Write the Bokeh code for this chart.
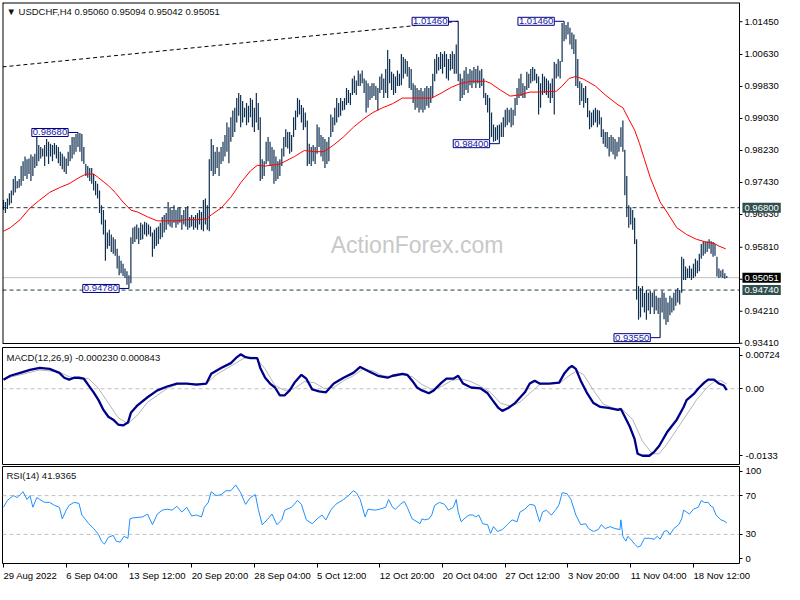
from bokeh.plotting import figure
from bokeh.models import Range1d, LinearAxis, FixedTicker, Span, Label
from bokeh.layouts import column
from bokeh.core.properties import value
from bokeh.embed import file_html
from bokeh.resources import INLINE

# ---------------- price bars (H4, one per bar index) ----------------
highs = [
    0.9699, 0.9694, 0.9703, 0.9716, 0.9723, 0.9752, 0.9759, 0.9747, 0.9752, 0.9784,
    0.9796, 0.9808, 0.9801, 0.9803, 0.9813, 0.9808, 0.9815, 0.9857, 0.9837, 0.9832,
    0.9828, 0.9837, 0.9852, 0.9845, 0.9840, 0.9837, 0.9842, 0.9837, 0.9832, 0.9820,
    0.9815, 0.9808, 0.9803, 0.9820, 0.9837, 0.9857, 0.9857, 0.9864, 0.9868, 0.9867,
    0.9864, 0.9832, 0.9789, 0.9784, 0.9779, 0.9779, 0.9764, 0.9747, 0.9740, 0.9723,
    0.9686, 0.9674, 0.9650, 0.9618, 0.9625, 0.9613, 0.9606, 0.9601, 0.9577, 0.9560,
    0.9547, 0.9540, 0.9528, 0.9521, 0.9511, 0.9606, 0.9630, 0.9633, 0.9638, 0.9630,
    0.9642, 0.9638, 0.9645, 0.9642, 0.9638, 0.9633, 0.9618, 0.9625, 0.9630, 0.9633,
    0.9642, 0.9657, 0.9662, 0.9667, 0.9694, 0.9681, 0.9674, 0.9686, 0.9674, 0.9679,
    0.9681, 0.9662, 0.9674, 0.9679, 0.9684, 0.9657, 0.9662, 0.9657, 0.9662, 0.9667,
    0.9674, 0.9669, 0.9699, 0.9703, 0.9686, 0.9801, 0.9852, 0.9837, 0.9820, 0.9832,
    0.9820, 0.9832, 0.9845, 0.9862, 0.9893, 0.9881, 0.9906, 0.9923, 0.9930, 0.9954,
    0.9967, 0.9962, 0.9947, 0.9930, 0.9942, 0.9935, 0.9954, 0.9950, 0.9930, 0.9967,
    0.9942, 0.9906, 0.9801, 0.9796, 0.9845, 0.9857, 0.9845, 0.9832, 0.9825, 0.9808,
    0.9796, 0.9801, 0.9828, 0.9857, 0.9876, 0.9869, 0.9869, 0.9862, 0.9906, 0.9923,
    0.9954, 0.9950, 0.9937, 0.9930, 0.9918, 0.9898, 0.9840, 0.9832, 0.9837, 0.9832,
    0.9888, 0.9881, 0.9862, 0.9857, 0.9852, 0.9845, 0.9857, 0.9913, 0.9906, 0.9930,
    0.9954, 0.9942, 0.9954, 0.9947, 0.9954, 0.9979, 0.9974, 0.9967, 1.0003, 1.0010,
    0.9998, 1.0023, 1.0015, 1.0023, 1.0003, 0.9998, 0.9991, 0.9984, 0.9991, 0.9991,
    0.9984, 0.9979, 1.0008, 1.0015, 1.0003, 1.0027, 1.0074, 1.0052, 1.0020, 1.0015,
    1.0008, 1.0023, 1.0015, 1.0064, 1.0057, 1.0052, 1.0047, 1.0032, 1.0027, 0.9991,
    0.9986, 0.9979, 0.9974, 0.9979, 0.9971, 0.9979, 0.9984, 0.9979, 0.9984, 1.0015,
    1.0052, 1.0064, 1.0057, 1.0069, 1.0064, 1.0071, 1.0064, 1.0052, 1.0064, 1.0071,
    1.0064, 1.0088, 1.0146, 1.0015, 1.0003, 1.0023, 1.0032, 1.0015, 1.0027, 1.0023,
    1.0032, 1.0027, 1.0035, 1.0023, 1.0027, 1.0003, 0.9967, 0.9962, 0.9954, 0.9918,
    0.9888, 0.9881, 0.9886, 0.9888, 0.9893, 0.9906, 0.9925, 0.9930, 0.9925, 0.9930,
    0.9925, 0.9954, 0.9979, 1.0003, 1.0015, 0.9991, 0.9984, 1.0020, 1.0015, 1.0027,
    1.0032, 1.0027, 1.0015, 1.0008, 0.9991, 1.0015, 1.0008, 1.0003, 0.9998, 0.9991,
    1.0003, 1.0044, 1.0040, 1.0052, 1.0047, 1.0142, 1.0146, 1.0137, 1.0144, 1.0130,
    1.0118, 1.0113, 1.0101, 1.0052, 0.9996, 0.9991, 0.9979, 0.9984, 0.9954, 0.9923,
    0.9918, 0.9925, 0.9930, 0.9925, 0.9923, 0.9906, 0.9876, 0.9869, 0.9869, 0.9857,
    0.9862, 0.9857, 0.9852, 0.9845, 0.9857, 0.9881, 0.9898, 0.9825, 0.9759, 0.9686,
    0.9681, 0.9674, 0.9655, 0.9601, 0.9484, 0.9479, 0.9484, 0.9467, 0.9474, 0.9467,
    0.9472, 0.9467, 0.9472, 0.9460, 0.9455, 0.9455, 0.9472, 0.9467, 0.9455, 0.9443,
    0.9460, 0.9455, 0.9467, 0.9474, 0.9479, 0.9474, 0.9557, 0.9552, 0.9533, 0.9528,
    0.9535, 0.9528, 0.9540, 0.9552, 0.9548, 0.9565, 0.9589, 0.9596, 0.9594, 0.9596,
    0.9601, 0.9596, 0.9594, 0.9589, 0.9557, 0.9528, 0.9523, 0.9526, 0.9516, 0.95094,
]
lows = [
    0.9674, 0.9667, 0.9677, 0.9686, 0.9691, 0.9711, 0.9718, 0.9728, 0.9730, 0.9735,
    0.9747, 0.9759, 0.9752, 0.9764, 0.9747, 0.9759, 0.9779, 0.9784, 0.9796, 0.9803,
    0.9808, 0.9784, 0.9808, 0.9789, 0.9808, 0.9796, 0.9813, 0.9803, 0.9791, 0.9784,
    0.9776, 0.9769, 0.9764, 0.9784, 0.9796, 0.9803, 0.9813, 0.9820, 0.9832, 0.9820,
    0.9796, 0.9789, 0.9759, 0.9755, 0.9747, 0.9740, 0.9723, 0.9711, 0.9703, 0.9667,
    0.9638, 0.9613, 0.9547, 0.9577, 0.9584, 0.9569, 0.9565, 0.9560, 0.9528, 0.9511,
    0.9516, 0.9509, 0.9504, 0.9487, 0.9478, 0.9491, 0.9589, 0.9594, 0.9601, 0.9589,
    0.9599, 0.9601, 0.9613, 0.9608, 0.9613, 0.9608, 0.9557, 0.9577, 0.9584, 0.9589,
    0.9601, 0.9606, 0.9618, 0.9625, 0.9638, 0.9633, 0.9630, 0.9642, 0.9630, 0.9638,
    0.9642, 0.9625, 0.9638, 0.9633, 0.9625, 0.9630, 0.9633, 0.9625, 0.9630, 0.9625,
    0.9638, 0.9625, 0.9621, 0.9638, 0.9625, 0.9621, 0.9772, 0.9759, 0.9764, 0.9779,
    0.9759, 0.9789, 0.9796, 0.9808, 0.9820, 0.9791, 0.9845, 0.9857, 0.9869, 0.9893,
    0.9910, 0.9881, 0.9893, 0.9906, 0.9886, 0.9893, 0.9906, 0.9881, 0.9869, 0.9893,
    0.9874, 0.9747, 0.9752, 0.9759, 0.9789, 0.9796, 0.9784, 0.9772, 0.9740, 0.9747,
    0.9752, 0.9759, 0.9784, 0.9808, 0.9832, 0.9828, 0.9815, 0.9820, 0.9857, 0.9874,
    0.9906, 0.9913, 0.9893, 0.9874, 0.9881, 0.9784, 0.9789, 0.9784, 0.9796, 0.9789,
    0.9815, 0.9832, 0.9808, 0.9796, 0.9779, 0.9789, 0.9796, 0.9857, 0.9869, 0.9886,
    0.9893, 0.9906, 0.9910, 0.9923, 0.9925, 0.9937, 0.9942, 0.9937, 0.9962, 0.9967,
    0.9962, 0.9984, 0.9984, 0.9991, 0.9967, 0.9918, 0.9930, 0.9949, 0.9954, 0.9959,
    0.9949, 0.9923, 0.9967, 0.9974, 0.9954, 0.9967, 0.9954, 0.9991, 0.9974, 0.9962,
    0.9967, 0.9984, 0.9984, 0.9986, 1.0003, 1.0015, 1.0008, 0.9979, 0.9974, 0.9942,
    0.9925, 0.9930, 0.9918, 0.9925, 0.9918, 0.9925, 0.9935, 0.9930, 0.9942, 0.9954,
    0.9996, 1.0015, 1.0023, 1.0027, 1.0015, 1.0032, 1.0003, 0.9998, 1.0023, 1.0027,
    1.0015, 1.0015, 0.9996, 0.9947, 0.9954, 0.9962, 0.9974, 0.9967, 0.9986, 0.9979,
    0.9991, 0.9979, 0.9991, 0.9979, 0.9984, 0.9954, 0.9937, 0.9918, 0.9852, 0.9857,
    0.9845, 0.9847, 0.9850, 0.9840, 0.9857, 0.9857, 0.9881, 0.9886, 0.9893, 0.9881,
    0.9886, 0.9910, 0.9937, 0.9954, 0.9959, 0.9954, 0.9954, 0.9974, 0.9979, 0.9991,
    0.9996, 0.9998, 0.9991, 0.9913, 0.9930, 0.9962, 0.9967, 0.9962, 0.9954, 0.9942,
    0.9954, 0.9913, 1.0003, 1.0008, 1.0003, 1.0044, 1.0096, 1.0101, 1.0113, 1.0088,
    1.0076, 1.0064, 0.9984, 0.9979, 0.9937, 0.9947, 0.9930, 0.9942, 0.9906, 0.9876,
    0.9881, 0.9886, 0.9893, 0.9881, 0.9888, 0.9857, 0.9840, 0.9832, 0.9828, 0.9808,
    0.9820, 0.9813, 0.9801, 0.9808, 0.9820, 0.9832, 0.9820, 0.9711, 0.9657, 0.9630,
    0.9638, 0.9625, 0.9589, 0.9450, 0.9400, 0.9406, 0.9431, 0.9418, 0.9400, 0.9423,
    0.9414, 0.9431, 0.9414, 0.9423, 0.9414, 0.9355, 0.9418, 0.9401, 0.9387, 0.9394,
    0.9411, 0.9418, 0.9423, 0.9435, 0.9443, 0.9438, 0.9467, 0.9499, 0.9499, 0.9504,
    0.9504, 0.9499, 0.9504, 0.9508, 0.9516, 0.9521, 0.9552, 0.9560, 0.9565, 0.9569,
    0.9577, 0.9565, 0.9557, 0.9560, 0.9508, 0.9504, 0.9506, 0.9504, 0.9502, 0.95042,
]

# ---------------- moving average (red) ----------------
ma_idx = [0, 3.5, 8.5, 13.5, 18.5, 23.5, 28.5, 33.5, 38.5, 42,
          46, 48.5, 53.5, 57, 61, 65, 68.5, 73.5, 78.5, 83.5,
          88.5, 93.5, 98.5, 103.5, 106, 111, 116, 121, 126, 129.5,
          133.5, 141, 148.5, 153.5, 158.5, 163.5, 168.5, 173.5, 178.5, 183.5,
          188.5, 193.5, 198.5, 203.5, 208.5, 218.5, 223.5, 228.5, 233.5, 238.5,
          246, 248.5, 253.5, 258.5, 263.5, 268.5, 273.5, 282, 285, 288.5,
          292, 296, 302, 307, 313.5, 316, 318.5, 322, 324.5, 327,
          330, 335, 338.5, 343.5, 348.5, 353.5, 358.5, 362.5, 365, 368.5]
ma_val = [0.9621, 0.9630, 0.9650, 0.9679, 0.9699, 0.9718, 0.9730, 0.9740, 0.9755, 0.9764,
          0.9764, 0.9755, 0.9735, 0.9718, 0.9694, 0.9674, 0.9669, 0.9657, 0.9647, 0.9647,
          0.9647, 0.9650, 0.9650, 0.9652, 0.9662, 0.9679, 0.9706, 0.9742, 0.9772, 0.9786,
          0.9784, 0.9789, 0.9808, 0.9823, 0.9820, 0.9820, 0.9837, 0.9857, 0.9881, 0.9901,
          0.9918, 0.9930, 0.9940, 0.9954, 0.9954, 0.9954, 0.9967, 0.9981, 0.9991, 0.9996,
          0.9996, 0.9991, 0.9974, 0.9959, 0.9962, 0.9969, 0.9969, 0.9971, 0.9984, 1.0003,
          1.0008, 1.0001, 0.9984, 0.9962, 0.9937, 0.9930, 0.9906, 0.9874, 0.9840, 0.9801,
          0.9755, 0.9694, 0.9669, 0.9630, 0.9613, 0.9601, 0.9594, 0.9591, 0.9584, 0.9577]

# ---------------- MACD(12,26,9) ----------------
macd_idx = [0, 3.5, 8.5, 13.5, 18.5, 23.5, 28.5, 31, 33.5, 36,
            38.5, 41, 43.5, 46, 48.5, 51, 53.5, 56, 58.5, 61,
            63.5, 65, 68.5, 73.5, 78.5, 83.5, 88.5, 93.5, 98.5, 103.5,
            106, 111, 116, 118.5, 121, 123.5, 126, 129.5, 131, 133.5,
            136, 138.5, 141, 143.5, 146, 148.5, 152, 154.5, 157.5, 161,
            164.5, 168.5, 173.5, 178.5, 182, 186, 191, 196, 198.5, 203.5,
            206, 208.5, 211, 213.5, 217, 219.5, 223.5, 226, 229.5, 232,
            234.5, 238.5, 243.5, 247, 249.5, 252.5, 254.5, 257.5, 261, 266,
            268.5, 271, 273.5, 278.5, 283.5, 286, 288.5, 290, 292, 294.5,
            297.5, 301, 304.5, 308.5, 313.5, 315, 317, 319.5, 322, 323.5,
            326, 329.5, 332, 334.5, 338.5, 343.5, 347, 348.5, 352.5, 354.5,
            357.5, 359.5, 362.5, 365, 367.5, 369]
macd_val = [0.00159, 0.00228, 0.00279, 0.00330, 0.00365, 0.00348, 0.00279, 0.00193, 0.00159, 0.00193,
            0.00193, 0.00176, 0.00056, -0.00063, -0.00200, -0.00372, -0.00491, -0.00543, -0.00628, -0.00645,
            -0.00594, -0.00423, -0.00286, -0.00149, -0.00029, 0.00039, 0.00091, 0.00091, 0.00074, 0.00091,
            0.00262, 0.00365, 0.00450, 0.00536, 0.00604, 0.00553, 0.00536, 0.00536, 0.00365, 0.00193,
            0.00091, 0.00022, -0.00115, -0.00115, -0.00029, 0.00108, 0.00245, 0.00176, -0.00012, -0.00046,
            -0.00063, 0.00091, 0.00193, 0.00279, 0.00382, 0.00313, 0.00228, 0.00193, 0.00228, 0.00262,
            0.00245, 0.00142, 0.00022, -0.00029, -0.00080, -0.00029, 0.00108, 0.00176, 0.00176, 0.00228,
            0.00091, 0.00022, 0.00005, -0.00080, -0.00200, -0.00337, -0.00389, -0.00337, -0.00252, -0.00063,
            0.00091, 0.00142, 0.00091, 0.00091, 0.00108, 0.00262, 0.00365, 0.00399, 0.00348, 0.00142,
            -0.00063, -0.00252, -0.00320, -0.00337, -0.00372, -0.00354, -0.00491, -0.00663, -0.00885, -0.01142,
            -0.01176, -0.01176, -0.01108, -0.01005, -0.00765, -0.00543, -0.00320, -0.00200, -0.00080, 0.00005,
            0.00108, 0.00159, 0.00159, 0.00091, 0.00056, -0.00023]
signal_idx = [0, 8.5, 18.5, 28.5, 33.5, 38.5, 43.5, 48.5, 53.5, 58.5,
              63.5, 68.5, 73.5, 78.5, 83.5, 88.5, 93.5, 98.5, 103.5, 108.5,
              113.5, 118.5, 123.5, 128.5, 133.5, 138.5, 143.5, 148.5, 153.5, 158.5,
              163.5, 168.5, 173.5, 178.5, 183.5, 188.5, 193.5, 198.5, 203.5, 208.5,
              213.5, 218.5, 223.5, 228.5, 233.5, 238.5, 243.5, 248.5, 253.5, 258.5,
              263.5, 268.5, 273.5, 278.5, 283.5, 288.5, 292.5, 296, 301, 306,
              311, 316, 321, 326, 331, 334.5, 338.5, 343.5, 348.5, 353.5,
              358.5, 362.5, 366, 369]
signal_val = [0.00176, 0.00245, 0.00330, 0.00296, 0.00211, 0.00176, 0.00176, 0.00005, -0.00252, -0.00508,
              -0.00611, -0.00457, -0.00235, -0.00115, 0.00005, 0.00074, 0.00091, 0.00091, 0.00091, 0.00245,
              0.00348, 0.00450, 0.00553, 0.00553, 0.00348, 0.00056, -0.00029, 0.00005, 0.00125, 0.00108,
              0.00005, 0.00022, 0.00142, 0.00228, 0.00348, 0.00313, 0.00228, 0.00211, 0.00245, 0.00211,
              0.00074, -0.00012, 0.00039, 0.00142, 0.00176, 0.00125, 0.00039, -0.00063, -0.00252, -0.00303,
              -0.00235, -0.00080, 0.00074, 0.00091, 0.00091, 0.00228, 0.00313, 0.00245, -0.00029, -0.00269,
              -0.00337, -0.00372, -0.00543, -0.00919, -0.01142, -0.01142, -0.00971, -0.00714, -0.00457, -0.00200,
              0.00005, 0.00125, 0.00142, 0.000843]

# ---------------- RSI(14) ----------------
rsi_idx = [0, 2, 5, 7, 8.5, 10, 12, 13.5, 15, 17,
           18.5, 21, 23.5, 26, 28.5, 30, 32, 33.5, 36, 38.5,
           40, 42, 43.5, 46, 48.5, 50, 51.5, 53.5, 56, 57.5,
           59.5, 61.5, 63.5, 64.5, 66, 71, 73.5, 76, 78.5, 81,
           83.5, 86, 88.5, 91, 93.5, 96, 98.5, 101, 102.5, 104.5,
           106, 108.5, 111, 113.5, 116, 118.5, 121, 123.5, 126, 128.5,
           130, 132, 134.5, 137, 139.5, 142, 143.5, 147, 150, 152,
           154.5, 157.5, 160, 162.5, 164.5, 167, 169.5, 173.5, 176, 178.5,
           180, 182, 184.5, 186, 189.5, 192, 195, 196.5, 198.5, 200,
           202.5, 204.5, 206, 208.5, 211, 212.5, 213.5, 215, 217, 218.5,
           220, 222.5, 225, 227, 229.5, 231, 232, 233.5, 235, 237.5,
           239.5, 241, 242.5, 244.5, 247, 248.5, 250, 252, 254.5, 257,
           259.5, 262, 263.5, 266, 268.5, 271, 273.5, 275, 277, 279.5,
           282, 283.5, 285, 287.5, 289.5, 292, 294.5, 297, 298.5, 301,
           303.5, 305, 307, 309.5, 312, 314.5, 315, 316, 317.5, 318.5,
           320, 322, 323.5, 325, 327, 329.5, 332, 333.5, 335, 337,
           338.5, 340, 342, 344.5, 346, 347, 348.5, 350, 352, 354.5,
           356, 357.5, 359.5, 361, 362, 363.5, 366, 367.5, 369]
rsi_val = [58, 65, 70, 68, 71, 74, 66, 70, 58, 68,
           66, 63, 63, 60, 58, 46, 55, 60, 63, 62,
           50, 45, 41, 36, 30, 23, 20, 27, 29, 23,
           22, 28, 26, 46, 47, 48, 51, 40, 51, 55,
           56, 55, 59, 53, 58, 49, 50, 48, 58, 63,
           74, 70, 71, 75, 75, 81, 73, 61, 68, 71,
           56, 40, 45, 51, 40, 45, 55, 58, 65, 61,
           45, 41, 46, 50, 45, 55, 61, 66, 70, 75,
           73, 66, 48, 56, 55, 56, 58, 66, 58, 56,
           61, 64, 58, 46, 43, 41, 46, 45, 46, 50,
           60, 63, 61, 55, 58, 66, 53, 43, 46, 50,
           50, 48, 50, 41, 40, 31, 38, 33, 35, 40,
           45, 43, 53, 56, 61, 60, 43, 53, 55, 50,
           56, 61, 73, 72, 66, 50, 40, 41, 36, 33,
           35, 40, 36, 38, 36, 35, 45, 28, 23, 28,
           25, 20, 17, 18, 26, 26, 25, 28, 25, 33,
           34, 30, 36, 40, 46, 55, 53, 51, 56, 58,
           65, 63, 63, 59, 58, 50, 45, 44, 41.9365]

# ---------------- annotation data ----------------
mark_idx = [38, 64, 232, 253, 286, 335]
mark_price = [0.9868, 0.9478, 1.0146, 0.9840, 1.0146, 0.9355]
mark_text = ["0.98680", "0.94780", "1.01460", "0.98400", "1.01460", "0.93550"]
trend_idx = [-0.5, 232]
trend_price = [1.0032, 1.0146]
level_price = [0.9680, 0.9474]
level_text = ["0.96800", "0.94740"]
bid_price = 0.95051
bid_text = "0.95051"
price_ticks = [0.9341, 0.9421, 0.9501, 0.9581, 0.9663, 0.9743, 0.9823, 0.9903, 0.9983, 1.0063, 1.0145]
macd_ticks = [0.00587, 0.0, -0.01176]
macd_tick_text = ["0.00724", "0.00", "-0.0133"]
rsi_ticks = [95, 70, 30, 5]
rsi_tick_text = ["100", "70", "30", "0"]
rsi_levels = [70, 30]
date_idx = [0, 32, 64, 96, 128, 160, 192, 224, 256, 288, 320, 352]
date_text = ["29 Aug 2022", "6 Sep 04:00", "13 Sep 12:00", "20 Sep 20:00", "28 Sep 04:00",
             "5 Oct 12:00", "12 Oct 20:00", "20 Oct 04:00", "27 Oct 12:00", "3 Nov 20:00",
             "11 Nov 04:00", "18 Nov 12:00"]

assert len(highs) == len(lows)
assert len(ma_idx) == len(ma_val)
assert len(macd_idx) == len(macd_val)
assert len(signal_idx) == len(signal_val)
assert len(rsi_idx) == len(rsi_val)

bar_idx = list(range(len(highs)))

FONT = "Liberation Sans"
FS = "9.5px"
BAR = "#0f2f50"
X0, X1 = -0.5, 375.5          # visible bar span of the chart area
XW = 398.46                   # chart + price-scale strip (same px per bar)
P_LO, P_HI = 0.93404, 1.01930  # price window of the main panel
P_EXT = 0.93304               # main panel extended down over the panel gap


def clean(p):
    p.grid.visible = False
    p.background_fill_color = "white"
    p.border_fill_color = "white"
    return p


def style_axis(ax):
    ax.axis_line_color = None
    ax.major_tick_out = 3
    ax.major_tick_in = 0
    ax.major_tick_line_color = "black"
    ax.minor_tick_line_color = None
    ax.major_label_text_font = FONT
    ax.major_label_text_font_size = FS
    ax.major_label_text_color = "black"
    ax.major_label_standoff = 3


# ================= main price panel (chart + its price scale strip) =================
p1 = clean(figure(frame_width=782, frame_height=345, min_border_left=2, min_border_right=0,
                  min_border_top=2, min_border_bottom=0,
                  x_range=Range1d(X0, XW), y_range=Range1d(P_EXT, P_HI),
                  x_axis_location=None, y_axis_location=None,
                  output_backend="svg", toolbar_location=None))
p1.outline_line_color = None

p1.add_layout(Label(x=211, y=0.95865, text="ActionForex.com", text_align="center",
                    text_baseline="middle", text_font=FONT, text_font_size="23px",
                    text_color="#c8c8c8", level="underlay"))
# bid line and horizontal levels (stop at the price scale)
p1.segment(x0=X0, y0=bid_price, x1=X1, y1=bid_price, line_color="#c0c0c0", line_width=1)
for lv in level_price:
    p1.segment(x0=X0, y0=lv, x1=X1, y1=lv, line_color="#223c3c", line_width=1, line_dash="4 3")

p1.segment(x0=bar_idx, y0=lows, x1=bar_idx, y1=highs, line_color=BAR, line_width=1.2)
p1.line(ma_idx, ma_val, line_color="#ff0000", line_width=1)
p1.line(trend_idx, trend_price, line_color="black", line_width=1, line_dash="4 3")

p1.segment(x0=[i - 5 for i in mark_idx], y0=mark_price, x1=mark_idx, y1=mark_price,
           line_color="#000080", line_width=1)
for i, pr, t in zip(mark_idx, mark_price, mark_text):
    p1.add_layout(Label(x=i - 5, y=pr, text=t, text_align="right", text_baseline="middle",
                        text_font=FONT, text_font_size=FS, text_color="#2020a8",
                        background_fill_color="white", border_line_color="#000080",
                        border_line_width=1, padding=1))

# panel frame
p1.segment(x0=[X0, X0, X0, X1], y0=[P_LO, P_HI, P_LO, P_LO],
           x1=[X1, X1, X0, X1], y1=[P_LO, P_HI, P_HI, P_HI],
           line_color="black", line_width=[1, 2, 2, 1])

# price scale: ticks and labels
p1.segment(x0=[X1] * len(price_ticks), y0=price_ticks, x1=[X1 + 1.5] * len(price_ticks),
           y1=price_ticks, line_color="black", line_width=1)
p1.text(x=[X1 + 2.5] * len(price_ticks), y=price_ticks,
        text=["%.5f" % t for t in price_ticks], text_align="left", text_baseline="middle",
        text_font=value(FONT), text_font_size=value(FS), text_color="black")

for lv, t in zip(level_price, level_text):
    p1.add_layout(Label(x=X1 + 1.5, y=lv, text=t, text_align="left", text_baseline="middle",
                        text_font=FONT, text_font_size=FS, text_color="white",
                        background_fill_color="#2f4f4f", padding=2))
p1.add_layout(Label(x=X1 + 1.5, y=bid_price, text=bid_text, text_align="left",
                    text_baseline="middle", text_font=FONT, text_font_size=FS, text_color="white",
                    background_fill_color="black", padding=2))

p1.add_layout(Label(x=X0, y=P_HI, x_offset=4, y_offset=-3,
                    text="\u25bc USDCHF,H4  0.95060 0.95094 0.95042 0.95051",
                    text_align="left", text_baseline="top", text_font=FONT,
                    text_font_size=FS, text_color="#101010"))

xr = Range1d(X0, X1)


def sub_fig(frame_h, y0, y1, top, bottom):
    p = clean(figure(frame_width=737, frame_height=frame_h,
                     min_border_left=2, min_border_right=45,
                     min_border_top=top, min_border_bottom=bottom,
                     x_range=xr, y_range=Range1d(y0, y1),
                     x_axis_location=None, y_axis_location=None,
                     output_backend="svg", toolbar_location=None))
    p.outline_line_color = "black"
    p.outline_line_width = 1
    p.outline_line_alpha = 1.0
    return p


# ================= MACD panel =================
p2 = sub_fig(117, -0.0133, 0.00724, 0, 1)
ax2 = LinearAxis(ticker=FixedTicker(ticks=macd_ticks),
                 major_label_overrides=dict(zip(macd_ticks, macd_tick_text)))
style_axis(ax2)
p2.add_layout(ax2, "right")
p2.add_layout(Span(location=0, dimension="width", line_color="#c0c0c0", line_width=1,
                   line_dash="4 3", level="underlay"))
p2.line(signal_idx, signal_val, line_color="#b4b4b4", line_width=1)
p2.line(macd_idx, macd_val, line_color="#00008b", line_width=2.3)
p2.add_layout(Label(x=X0, y=0.00724, x_offset=4, y_offset=-4,
                    text="MACD(12,26,9) -0.000230 0.000843", text_align="left",
                    text_baseline="top", text_font=FONT, text_font_size=FS, text_color="#101010"))

# ================= RSI panel =================
p3 = sub_fig(97, 0, 100, 1, 6)
ax3 = LinearAxis(ticker=FixedTicker(ticks=rsi_ticks),
                 major_label_overrides=dict(zip(rsi_ticks, rsi_tick_text)))
style_axis(ax3)
p3.add_layout(ax3, "right")
axd = LinearAxis(ticker=FixedTicker(ticks=date_idx),
                 major_label_overrides={d: "" for d in date_idx})
axd.axis_line_color = None
axd.major_tick_out = 4
axd.major_tick_in = 0
axd.major_tick_line_color = "black"
axd.minor_tick_line_color = None
axd.major_label_text_font_size = "1px"
axd.major_label_text_color = None
axd.major_label_standoff = 0
p3.add_layout(axd, "below")
for lv in rsi_levels:
    p3.add_layout(Span(location=lv, dimension="width", line_color="#c0c0c0", line_width=1,
                       line_dash="4 3", level="underlay"))
p3.line(rsi_idx, rsi_val, line_color="#1e90ff", line_width=1)
p3.add_layout(Label(x=X0, y=100, x_offset=4, y_offset=-3, text="RSI(14) 41.9365",
                    text_align="left", text_baseline="top", text_font=FONT,
                    text_font_size=FS, text_color="#101010"))

# ================= time scale labels (left-aligned on their ticks) =================
p4 = clean(figure(frame_width=782, frame_height=15, min_border_left=2, min_border_right=0,
                  min_border_top=0, min_border_bottom=0,
                  x_range=Range1d(X0, XW), y_range=Range1d(0, 15),
                  x_axis_location=None, y_axis_location=None,
                  output_backend="svg", toolbar_location=None))
p4.outline_line_color = None
p4.text(x=date_idx, y=[14.5] * len(date_idx), text=date_text, text_align="left",
        text_baseline="top", text_font=value(FONT), text_font_size=value(FS), text_color="black")

layout = column(p1, p2, p3, p4, spacing=0)
open("out.html", "w").write(file_html(layout, INLINE, title="USDCHF H4"))
